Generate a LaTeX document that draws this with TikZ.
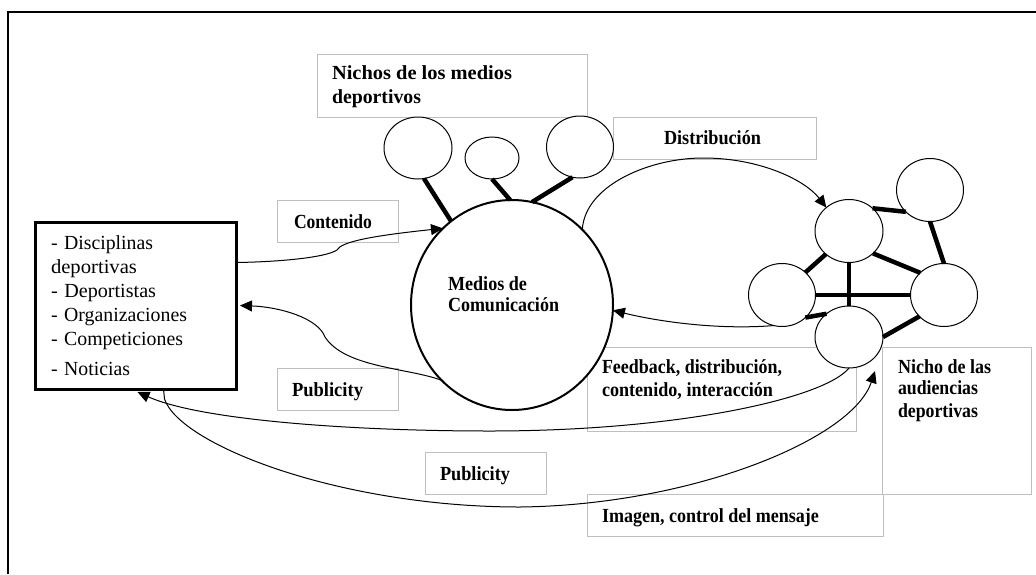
\documentclass[tikz,border=0pt]{standalone}
\usepackage{fontspec}
\usepackage{graphicx}
\setmainfont{Liberation Serif}
\usetikzlibrary{shapes.geometric,arrows.meta}
\tikzset{
  gbox/.style={draw=black!25,line width=1pt,inner sep=0pt,outer sep=0pt},
  srcbox/.style={draw=black,line width=3pt,inner xsep=16pt,inner ysep=0pt,outer sep=0pt,text width=169pt,minimum height=167pt,align=left,font=\fontsize{20}{24}\selectfont},
  blob/.style={draw=black,fill=white,ellipse,line width=1pt,inner sep=0pt,outer sep=0pt},
  link/.style={line width=4.5pt},
  lab/.style={anchor=base west,inner sep=0pt,outer sep=0pt,font=\bfseries\fontsize{20}{24}\selectfont},
  flow/.style={line width=1pt,-{Triangle[length=12pt,width=11pt]}}
}
\newcommand{\fw}[2]{\resizebox{#1pt}{\height}{#2}}
\begin{document}
\begin{tikzpicture}[x=1pt,y=-1pt]
\useasboundingbox (0,0) rectangle (1036,574);
% frame
\coordinate (fa) at (7.5,574);
\coordinate (fb) at (7.5,12);
\coordinate (fc) at (1036,12);
\draw[line width=2pt] (fa) -- (fb) -- (fc);
% grey boxes
\node[gbox,minimum width=270pt,minimum height=63pt] (bnichos) at (452,85.5) {};
\node[gbox,minimum width=203pt,minimum height=42pt] (bdist) at (714.5,138) {};
\node[gbox,minimum width=121pt,minimum height=42pt] (bcont) at (337.5,221) {};
\node[gbox,minimum width=121pt,minimum height=42pt] (bpub) at (337.5,389) {};
\node[gbox,minimum width=121pt,minimum height=42pt] (bpubb) at (485.5,473) {};
\node[gbox,minimum width=269pt,minimum height=84pt] (bfeed) at (721.5,389) {};
\node[gbox,minimum width=296pt,minimum height=42pt] (bimag) at (735,515) {};
\node[gbox,minimum width=149pt,minimum height=147pt] (bnicho) at (956.5,420.5) {};
% source box
\node[srcbox] (src) at (135.5,305.5) {%
\fw{102}{- Disciplinas}\\
\fw{86}{deportivas}\\
\fw{105}{- Deportistas}\\
\fw{136}{- Organizaciones}\\
\fw{132}{- Competiciones}\\[6pt]
\fw{79}{- Noticias}};
% main circle
\node[blob,line width=2pt,minimum width=202pt,minimum height=210pt] (main) at (512,305) {};
% media niches
\node[blob,minimum width=68pt,minimum height=62pt] (ca) at (418,148) {};
\node[blob,minimum width=54pt,minimum height=42pt] (cb) at (492,158) {};
\node[blob,minimum width=67pt,minimum height=62pt] (cc) at (580,147) {};
% audience niches
\node[blob,minimum width=67pt,minimum height=63pt] (na) at (930,190) {};
\node[blob,minimum width=68pt,minimum height=63pt] (nb) at (849,231) {};
\node[blob,minimum width=67pt,minimum height=63pt] (nc) at (782,295) {};
\node[blob,minimum width=67pt,minimum height=63pt] (nd) at (944,295) {};
\node[blob,minimum width=68pt,minimum height=62pt] (ne) at (849,337) {};
% thick links
\draw[link] (ca.-79) -- (main.126);
\draw[link] (cb.-90) -- (main.91);
\draw[link] (cc.-104) -- (main.79);
\draw[link] (nb.44) -- (na.222);
\draw[link] (na.-90) -- (nd.90);
\draw[link] (nb.-43) -- (nd.137);
\draw[link] (nb.225) -- (nc.44);
\draw[link] (nb.south) -- (ne.north);
\draw[link] (nc.east) -- (nd.west);
\draw[link] (nc.-44) -- (ne.134);
\draw[link] (ne.east) -- (nd.221);
% labels
\node[lab] (tnichosa) at (332,79) {\fw{180}{Nichos de los medios}};
\node[lab] (tnichosb) at (332,103) {\fw{89}{deportivos}};
\node[lab] (tdist) at (664,144) {\fw{97}{Distribución}};
\node[lab] (tcont) at (294,228) {\fw{78}{Contenido}};
\node[lab] (tpub) at (292,396) {\fw{71}{Publicity}};
\node[lab] (tpubb) at (440,480) {\fw{70}{Publicity}};
\node[lab] (tmeda) at (448,290) {\fw{79}{Medios de}};
\node[lab] (tmedb) at (448,311) {\fw{111}{Comunicación}};
\node[lab] (tfeeda) at (602,373) {\fw{180}{Feedback, distribución,}};
\node[lab] (tfeedb) at (602,396) {\fw{171}{contenido, interacción}};
\node[lab] (tnia) at (898,373) {\fw{93}{Nicho de las}};
\node[lab] (tnib) at (898,394) {\fw{80}{audiencias}};
\node[lab] (tnic) at (898,417) {\fw{80}{deportivas}};
\node[lab] (timag) at (602,522) {\fw{217}{Imagen, control del mensaje}};
% flows
\coordinate (tipn) at (875,371);
\draw[flow] ([yshift=43pt]src.east) .. controls (275,262) and (325,258) .. (337,250)
  .. controls (341,242) and (370,236) .. (main.132);
\draw[flow] (main.-133) .. controls (410,368) and (345,368) .. (325,337)
  .. controls (318,318) and (280,307) .. ([xshift=4pt,yshift=0pt]src.east);
\draw[flow] (main.47) .. controls (585,185) and (650,158) .. (703,158)
  .. controls (760,158) and (805,180) .. (nb.134);
\draw[flow] (nc.-105) .. controls (720,330) and (660,322) .. (main.-3);
\draw[flow] (ne.south) .. controls (825,398) and (680,431) .. (490,431)
  .. controls (350,431) and (200,420) .. ([xshift=2pt,yshift=-3pt]src.south);
\draw[flow] ([xshift=28pt]src.south) -- ++(1,10) .. controls (180,445) and (340,507) .. (520,507)
  .. controls (690,505) and (852,440) .. (tipn);
\end{tikzpicture}
\end{document}
